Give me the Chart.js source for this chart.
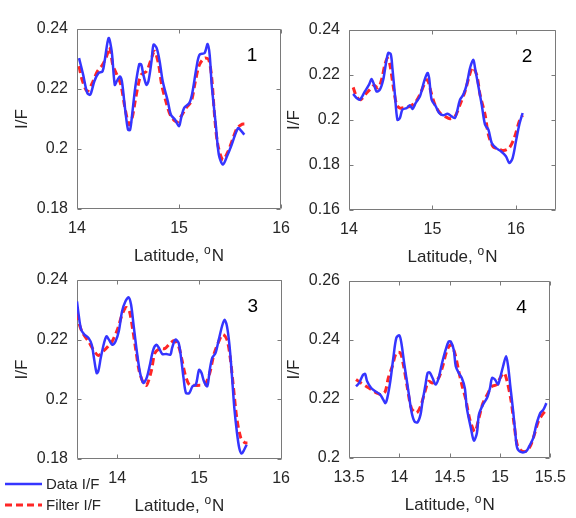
<!DOCTYPE html>
<html>
<head>
<meta charset="utf-8">
<script src="https://cdn.jsdelivr.net/npm/chart.js@4.4.1/dist/chart.umd.min.js"></script>
<style>
    html, body { margin: 0; padding: 0; background: #fff; }
    body { width: 576px; height: 518px; position: relative; overflow: hidden; }
    canvas { position: absolute; }
</style>
</head>
<body>
<canvas id="chart1" width="300" height="270" style="left:0;top:0"></canvas>
<canvas id="chart2" width="304" height="270" style="left:272px;top:0"></canvas>
<canvas id="chart3" width="300" height="260" style="left:0;top:258px"></canvas>
<canvas id="chart4" width="304" height="260" style="left:272px;top:258px"></canvas>
<script>
// panel 1
let lat1Data = [14.02,14.06,14.10,14.13,14.17,14.21,14.25,14.27,14.31,14.34,14.37,14.39,14.42,14.44,14.47,14.50,14.52,14.54,14.57,14.61,14.63,14.65,14.68,14.70,14.73,14.75,14.78,14.81,14.84,14.89,14.92,14.96,15.00,15.02,15.05,15.10,15.13,15.17,15.20,15.25,15.28,15.30,15.32,15.36,15.39,15.43,15.47,15.51,15.55,15.58,15.60,15.64];
let if1Data = [0.2303,0.2248,0.2187,0.2181,0.2226,0.2253,0.2259,0.2292,0.2370,0.2326,0.2214,0.2226,0.2242,0.2226,0.2137,0.2064,0.2064,0.2114,0.2203,0.2283,0.2281,0.2248,0.2214,0.2226,0.2292,0.2348,0.2337,0.2292,0.2226,0.2159,0.2114,0.2098,0.2076,0.2103,0.2137,0.2153,0.2187,0.2270,0.2314,0.2320,0.2350,0.2314,0.2214,0.2081,0.1981,0.1948,0.1976,0.2009,0.2048,0.2070,0.2064,0.2048];
let lat1Filter = [14.02,14.05,14.10,14.15,14.20,14.25,14.29,14.32,14.35,14.39,14.43,14.47,14.51,14.54,14.57,14.60,14.63,14.68,14.72,14.76,14.80,14.83,14.88,14.92,14.98,15.02,15.07,15.12,15.16,15.20,15.25,15.29,15.32,15.35,15.38,15.43,15.48,15.53,15.57,15.62,15.64];
let if1Filter = [0.2276,0.2231,0.2192,0.2220,0.2259,0.2281,0.2309,0.2340,0.2281,0.2248,0.2214,0.2137,0.2081,0.2103,0.2159,0.2214,0.2248,0.2259,0.2292,0.2326,0.2281,0.2214,0.2148,0.2109,0.2090,0.2109,0.2137,0.2159,0.2226,0.2281,0.2303,0.2298,0.2237,0.2103,0.2014,0.1964,0.1992,0.2037,0.2070,0.2083,0.2083];

// panel 2
let lat2Data = [14.05,14.09,14.13,14.19,14.24,14.27,14.30,14.33,14.37,14.41,14.44,14.47,14.50,14.52,14.55,14.58,14.61,14.64,14.69,14.73,14.76,14.80,14.85,14.90,14.94,14.96,14.99,15.04,15.08,15.13,15.18,15.23,15.27,15.29,15.33,15.37,15.41,15.45,15.49,15.51,15.55,15.59,15.63,15.67,15.71,15.76,15.82,15.88,15.92,15.96,16.00,16.04,16.08];
let if2Data = [0.2116,0.2098,0.2090,0.2127,0.2157,0.2182,0.2157,0.2127,0.2135,0.2179,0.2246,0.2298,0.2293,0.2231,0.2113,0.2001,0.2009,0.2046,0.2053,0.2065,0.2049,0.2076,0.2105,0.2172,0.2209,0.2187,0.2090,0.2061,0.2031,0.2021,0.2028,0.2016,0.2009,0.2031,0.2090,0.2113,0.2157,0.2231,0.2268,0.2231,0.2150,0.2068,0.1979,0.1957,0.1898,0.1876,0.1861,0.1839,0.1809,0.1831,0.1905,0.1979,0.2031];
let lat2Filter = [14.05,14.09,14.14,14.20,14.25,14.30,14.35,14.39,14.43,14.46,14.49,14.53,14.57,14.61,14.67,14.73,14.79,14.85,14.90,14.94,14.98,15.03,15.09,15.15,15.21,15.27,15.33,15.39,15.44,15.48,15.53,15.57,15.63,15.67,15.73,15.79,15.85,15.92,15.98,16.04,16.08];
let if2Filter = [0.2145,0.2105,0.2090,0.2116,0.2135,0.2154,0.2142,0.2179,0.2246,0.2276,0.2246,0.2150,0.2068,0.2053,0.2056,0.2061,0.2076,0.2113,0.2157,0.2179,0.2127,0.2068,0.2031,0.2016,0.2006,0.2016,0.2068,0.2127,0.2194,0.2234,0.2201,0.2113,0.2024,0.1935,0.1879,0.1873,0.1864,0.1876,0.1920,0.1994,0.2021];

// panel 3
let lat3Data = [13.51,13.53,13.56,13.60,13.65,13.69,13.72,13.75,13.77,13.80,13.84,13.87,13.90,13.94,13.98,14.02,14.06,14.10,14.14,14.17,14.20,14.24,14.28,14.32,14.36,14.40,14.44,14.48,14.51,14.55,14.60,14.65,14.67,14.71,14.75,14.78,14.81,14.84,14.88,14.92,14.96,15.00,15.03,15.06,15.10,15.13,15.16,15.20,15.24,15.28,15.31,15.34,15.37,15.40,15.43,15.46,15.49,15.52,15.55,15.58];
let if3Data = [0.2328,0.2284,0.2234,0.2217,0.2206,0.2183,0.2133,0.2088,0.2094,0.2139,0.2189,0.2211,0.2200,0.2183,0.2194,0.2228,0.2295,0.2328,0.2342,0.2317,0.2250,0.2161,0.2088,0.2055,0.2072,0.2116,0.2166,0.2183,0.2172,0.2152,0.2152,0.2150,0.2172,0.2200,0.2189,0.2139,0.2072,0.2021,0.2021,0.2044,0.2049,0.2099,0.2088,0.2060,0.2044,0.2099,0.2139,0.2155,0.2200,0.2245,0.2267,0.2245,0.2183,0.2083,0.1971,0.1893,0.1837,0.1818,0.1831,0.1848];
let lat3Filter = [13.51,13.54,13.58,13.65,13.71,13.77,13.83,13.89,13.95,14.01,14.06,14.11,14.15,14.19,14.23,14.27,14.32,14.36,14.42,14.46,14.52,14.58,14.65,14.70,14.75,14.79,14.83,14.88,14.94,15.01,15.07,15.13,15.18,15.24,15.29,15.34,15.38,15.42,15.46,15.51,15.56,15.59];
let if3Filter = [0.2289,0.2250,0.2222,0.2194,0.2166,0.2147,0.2161,0.2178,0.2200,0.2239,0.2284,0.2308,0.2295,0.2234,0.2161,0.2094,0.2055,0.2047,0.2099,0.2155,0.2170,0.2170,0.2189,0.2197,0.2178,0.2133,0.2083,0.2049,0.2047,0.2047,0.2049,0.2088,0.2150,0.2194,0.2217,0.2200,0.2139,0.2038,0.1937,0.1870,0.1854,0.1854];

// panel 4
let lat4Data = [13.57,13.60,13.64,13.66,13.68,13.72,13.76,13.81,13.84,13.86,13.88,13.91,13.94,13.97,14.00,14.02,14.05,14.09,14.12,14.15,14.18,14.21,14.23,14.26,14.28,14.30,14.33,14.36,14.39,14.42,14.46,14.49,14.51,14.54,14.56,14.59,14.62,14.65,14.67,14.71,14.74,14.77,14.79,14.83,14.87,14.90,14.92,14.95,14.98,15.00,15.03,15.06,15.08,15.10,15.13,15.15,15.17,15.21,15.26,15.29,15.33,15.36,15.40,15.43,15.46];
let if4Data = [0.2243,0.2254,0.2282,0.2285,0.2260,0.2237,0.2226,0.2215,0.2198,0.2186,0.2203,0.2260,0.2339,0.2407,0.2416,0.2390,0.2316,0.2226,0.2158,0.2124,0.2121,0.2147,0.2192,0.2249,0.2288,0.2290,0.2271,0.2249,0.2271,0.2316,0.2367,0.2395,0.2395,0.2367,0.2311,0.2288,0.2271,0.2237,0.2169,0.2102,0.2059,0.2085,0.2147,0.2181,0.2203,0.2237,0.2271,0.2266,0.2249,0.2271,0.2311,0.2345,0.2311,0.2249,0.2158,0.2090,0.2034,0.2020,0.2023,0.2040,0.2068,0.2113,0.2153,0.2164,0.2186];
let lat4Filter = [13.57,13.62,13.67,13.72,13.78,13.82,13.86,13.89,13.93,13.97,14.01,14.04,14.08,14.12,14.17,14.21,14.25,14.29,14.33,14.39,14.43,14.47,14.51,14.55,14.59,14.62,14.66,14.70,14.75,14.79,14.83,14.88,14.92,14.97,15.00,15.04,15.07,15.11,15.14,15.17,15.21,15.26,15.30,15.34,15.38,15.42,15.46];
let if4Filter = [0.2266,0.2254,0.2243,0.2232,0.2220,0.2215,0.2226,0.2271,0.2311,0.2356,0.2356,0.2316,0.2237,0.2169,0.2153,0.2175,0.2220,0.2260,0.2254,0.2271,0.2311,0.2362,0.2384,0.2356,0.2294,0.2249,0.2198,0.2130,0.2090,0.2136,0.2186,0.2220,0.2243,0.2249,0.2271,0.2288,0.2260,0.2192,0.2113,0.2045,0.2025,0.2023,0.2040,0.2079,0.2124,0.2147,0.2164];

// axis ticks
let xTicks1 = [14, 15, 16];
let xTicks2 = [14, 15, 16];
let xTicks3 = [14, 15, 16];
let xTicks4 = [13.5, 14, 14.5, 15, 15.5];
let yTicks1 = [0.18, 0.2, 0.22, 0.24];
let yTicks2 = [0.16, 0.18, 0.2, 0.22, 0.24];
let yTicks3 = [0.18, 0.2, 0.22, 0.24];
let yTicks4 = [0.2, 0.22, 0.24, 0.26];

let seriesLabels = ["Data I/F", "Filter I/F"];
let panelNames = ["1", "2", "3", "4"];

const FONT = '"Liberation Sans", Arial, sans-serif';
const TEXT = "#262626";
const BLUE = "#3535ff";
const RED = "#ff2626";

function toXY(xs, ys) {
    return xs.map(function(v, i) { return {x: v, y: ys[i]}; });
}

// matlab style box, inner ticks, panel number and x title with superscript
const matlabBox = {
    id: "matlabBox",
    beforeDatasetsDraw(chart) {
        let ctx = chart.ctx;
        let a = chart.chartArea;
        let xs = chart.scales.x, ys = chart.scales.y;
        let l = Math.round(a.left) + 0.5, r = Math.round(a.right) - 0.5;
        let t = Math.round(a.top) + 0.5, b = Math.round(a.bottom) - 0.5;
        ctx.save();
        ctx.strokeStyle = "#7a7a7a";
        ctx.lineWidth = 1;
        ctx.beginPath();
        ctx.moveTo(l, t); ctx.lineTo(r, t); ctx.lineTo(r, b); ctx.lineTo(l, b); ctx.closePath();
        xs.ticks.forEach(function(tk) {
            let px = Math.round(xs.getPixelForValue(tk.value)) + 0.5;
            ctx.moveTo(px, b); ctx.lineTo(px, b - 4);
            ctx.moveTo(px, t); ctx.lineTo(px, t + 4);
        });
        ys.ticks.forEach(function(tk) {
            let py = Math.round(ys.getPixelForValue(tk.value)) + 0.5;
            ctx.moveTo(l, py); ctx.lineTo(l + 4, py);
            ctx.moveTo(r, py); ctx.lineTo(r - 4, py);
        });
        ctx.stroke();
        ctx.restore();
    },
    afterDraw(chart, args, opts) {
        let ctx = chart.ctx;
        let a = chart.chartArea;
        ctx.save();
        ctx.fillStyle = "#000";
        ctx.font = "19px " + FONT;
        ctx.textAlign = "center";
        ctx.textBaseline = "middle";
        ctx.fillText(opts.name, a.right - 29, a.top + 27);

        // Latitude, oN
        let big = "17px " + FONT, small = "12px " + FONT;
        ctx.fillStyle = TEXT;
        ctx.textAlign = "left";
        ctx.textBaseline = "alphabetic";
        ctx.font = big;
        let w1 = ctx.measureText("Latitude, ").width;
        let w3 = ctx.measureText("N").width;
        ctx.font = small;
        let w2 = ctx.measureText("o").width + 1;
        let x0 = (a.left + a.right) / 2 - (w1 + w2 + w3) / 2;
        let base = a.bottom + 52;
        ctx.font = big;
        ctx.fillText("Latitude, ", x0, base);
        ctx.font = small;
        ctx.fillText("o", x0 + w1, base - 7);
        ctx.font = big;
        ctx.fillText("N", x0 + w1 + w2, base);

        if (opts.legend) {
            ctx.font = "15px " + FONT;
            ctx.textBaseline = "middle";
            chart.data.datasets.forEach(function(ds, i) {
                let ly = 226 + i * 21;
                ctx.strokeStyle = ds.borderColor;
                ctx.lineWidth = ds.borderWidth;
                ctx.setLineDash(ds.borderDash || []);
                ctx.beginPath();
                ctx.moveTo(5, ly); ctx.lineTo(42, ly);
                ctx.stroke();
                ctx.setLineDash([]);
                ctx.fillStyle = TEXT;
                ctx.fillText(ds.label, 46, ly + 1);
            });
        }
        ctx.restore();
    }
};

function createPanel(id, cfg) {
    return new Chart(document.getElementById(id), {
        type: "line",
        data: {
            datasets: [
                {
                    label: seriesLabels[0],
                    data: toXY(cfg.latData, cfg.ifData),
                    borderColor: BLUE,
                    borderWidth: 2.5,
                    pointRadius: 0,
                    tension: 0.3,
                    fill: false
                },
                {
                    label: seriesLabels[1],
                    data: toXY(cfg.latFilter, cfg.ifFilter),
                    borderColor: RED,
                    borderWidth: 3,
                    borderDash: [7, 4],
                    pointRadius: 0,
                    tension: 0.3,
                    fill: false
                }
            ]
        },
        options: {
            responsive: false,
            animation: false,
            events: [],
            layout: { padding: cfg.padding },
            plugins: {
                legend: { display: false },
                tooltip: { enabled: false },
                matlabBox: { name: cfg.name, legend: cfg.legend }
            },
            scales: {
                x: {
                    type: "linear",
                    min: cfg.xMin,
                    max: cfg.xMax,
                    afterBuildTicks: function(s) { s.ticks = cfg.xTicks.map(function(v) { return {value: v}; }); },
                    afterFit: function(s) { s.height = cfg.xHeight; },
                    grid: { display: false, drawTicks: false },
                    border: { display: false },
                    ticks: {
                        autoSkip: false,
                        maxRotation: 0,
                        padding: 10,
                        color: TEXT,
                        font: { family: FONT, size: 16 },
                        callback: function(v) { return String(v); }
                    }
                },
                y: {
                    min: cfg.yMin,
                    max: cfg.yMax,
                    afterBuildTicks: function(s) { s.ticks = cfg.yTicks.map(function(v) { return {value: v}; }); },
                    afterFit: function(s) { s.width = 77; },
                    grid: { display: false, drawTicks: false },
                    border: { display: false },
                    title: {
                        display: true,
                        text: "I/F",
                        color: TEXT,
                        font: { family: FONT, size: 17 },
                        padding: { top: 12, bottom: 0 }
                    },
                    ticks: {
                        padding: 9,
                        color: TEXT,
                        font: { family: FONT, size: 16 },
                        callback: function(v) { return String(Number(v.toFixed(4))); }
                    }
                }
            }
        },
        plugins: [matlabBox]
    });
}

createPanel("chart1", {
    latData: lat1Data, ifData: if1Data, latFilter: lat1Filter, ifFilter: if1Filter,
    xMin: 14, xMax: 16, yMin: 0.18, yMax: 0.24, xTicks: xTicks1, yTicks: yTicks1,
    padding: { left: 0, top: 29, right: 16, bottom: 0 }, xHeight: 61, name: panelNames[0]
});
createPanel("chart2", {
    latData: lat2Data, ifData: if2Data, latFilter: lat2Filter, ifFilter: if2Filter,
    xMin: 14, xMax: 16.48, yMin: 0.16, yMax: 0.24, xTicks: xTicks2, yTicks: yTicks2,
    padding: { left: 0, top: 30, right: 20, bottom: 0 }, xHeight: 60, name: panelNames[1]
});
createPanel("chart3", {
    latData: lat3Data, ifData: if3Data, latFilter: lat3Filter, ifFilter: if3Filter,
    xMin: 13.51, xMax: 16.01, yMin: 0.18, yMax: 0.24, xTicks: xTicks3, yTicks: yTicks3,
    padding: { left: 0, top: 22, right: 16, bottom: 0 }, xHeight: 59, name: panelNames[2], legend: true
});
createPanel("chart4", {
    latData: lat4Data, ifData: if4Data, latFilter: lat4Filter, ifFilter: if4Filter,
    xMin: 13.5, xMax: 15.5, yMin: 0.2, yMax: 0.26, xTicks: xTicks4, yTicks: yTicks4,
    padding: { left: 0, top: 23, right: 20, bottom: 0 }, xHeight: 60, name: panelNames[3]
});
</script>
</body>
</html>
